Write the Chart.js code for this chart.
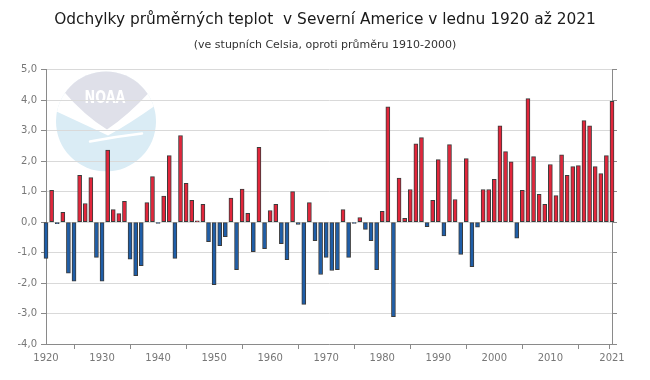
<!DOCTYPE html>
<html>
<head>
<meta charset="utf-8">
<script src="https://cdn.jsdelivr.net/npm/chart.js@4"></script>
<style>
    html, body { margin: 0; padding: 0; background: #fff; }
    #wrap { width: 650px; height: 380px; position: relative; }
</style>
</head>
<body>
<div id="wrap"><canvas id="tempChart"></canvas></div>
<script>
// years 1920..2021
const firstYear = 1920;
const lastYear = 2021;
const anomalies = [
    -1.19, 1.04, -0.05, 0.32, -1.68, -1.94, 1.53, 0.61, 1.46, -1.16,   // 1920s
    -1.94, 2.36, 0.41, 0.28, 0.68, -1.22, -1.76, -1.43, 0.64, 1.49,    // 1930s
    -0.04, 0.85, 2.18, -1.19, 2.84, 1.27, 0.71, 0.04, 0.58, -0.64,     // 1940s
    -2.05, -0.77, -0.48, 0.79, -1.56, 1.08, 0.29, -0.97, 2.45, -0.87,  // 1950s
    0.38, 0.58, -0.71, -1.23, 1.00, -0.08, -2.70, 0.64, -0.61, -1.72,  // 1960s
    -1.16, -1.59, -1.56, 0.41, -1.16, -0.04, 0.15, -0.24, -0.61, -1.56, // 1970s
    0.35, 3.78, -3.10, 1.44, 0.12, 1.07, 2.57, 2.77, -0.15, 0.71,      // 1980s
    2.05, -0.45, 2.54, 0.74, -1.06, 2.08, -1.46, -0.17, 1.07, 1.07,    // 1990s
    1.40, 3.16, 2.31, 1.98, -0.53, 1.04, 4.05, 2.15, 0.91, 0.58,       // 2000s
    1.89, 0.87, 2.21, 1.53, 1.82, 1.85, 3.33, 3.16, 1.82, 1.59,        // 2010s
    2.18, 3.96                                                         // 2020, 2021
];
const xTickYears = [1920, 1930, 1940, 1950, 1960, 1970, 1980, 1990, 2000, 2010, 2020, 2021];
const yTickValues = [-4, -3, -2, -1, 0, 1, 2, 3, 4, 5];

const warmColor = '#e2263b';
const coldColor = '#1f5ea8';
const edgeColor = '#3b3b3b';
const axisGray = '#8a8a8a';

const points = anomalies.map((v, i) => ({ x: firstYear + i, y: v }));

// faded NOAA emblem behind the plot
const logoPlugin = {
    id: 'noaaLogo',
    beforeDraw(chart) {
        const c = chart.ctx;
        const cx = 106, cy = 121.5, r = 50;
        c.save();
        c.beginPath();
        c.arc(cx, cy, r, 0, Math.PI * 2);
        c.clip();
        c.fillStyle = '#daecf5';
        c.fillRect(cx - r, cy - r, 2 * r, 2 * r);
        // white gull band
        c.fillStyle = '#ffffff';
        c.beginPath();
        c.moveTo(cx - 50, cy - 60);
        c.lineTo(cx + 50, cy - 60);
        c.lineTo(cx + 52, cy - 18);
        c.quadraticCurveTo(cx + 24, cy + 2, cx + 2, cy + 14);
        c.quadraticCurveTo(cx - 24, cy + 2, cx - 54, cy - 12);
        c.closePath();
        c.fill();
        // grey upper part
        c.fillStyle = '#dfe0e9';
        c.beginPath();
        c.moveTo(cx - 50, cy - 60);
        c.lineTo(cx + 50, cy - 60);
        c.lineTo(cx + 44, cy - 30);
        c.quadraticCurveTo(cx + 22, cy - 6, cx + 1, cy + 8);
        c.quadraticCurveTo(cx - 22, cy - 6, cx - 44, cy - 32);
        c.closePath();
        c.fill();
        // lower swoosh
        c.strokeStyle = '#ffffff';
        c.lineCap = 'round';
        c.lineWidth = 2.5;
        c.beginPath();
        c.moveTo(cx - 16, cy + 20);
        c.quadraticCurveTo(cx + 10, cy + 15, cx + 36, cy + 12);
        c.stroke();
        c.fillStyle = '#ffffff';
        c.font = 'bold 17px "DejaVu Sans"';
        c.textAlign = 'center';
        c.textBaseline = 'middle';
        c.fillText('NOAA', cx - 1, cy - 23, 41);
        c.restore();
    }
};

const ctx = document.getElementById('tempChart').getContext('2d');
const tempChart = new Chart(ctx, {
    type: 'bar',
    data: {
        datasets: [{
            data: points,
            backgroundColor: points.map(p => p.y >= 0 ? warmColor : coldColor),
            borderColor: edgeColor,
            borderWidth: 1,
            borderSkipped: false,
            barThickness: 4,
            clip: false
        }]
    },
    options: {
        responsive: true,
        maintainAspectRatio: false,
        animation: false,
        layout: { padding: { left: 0, right: 0, top: 0, bottom: 0 } },
        plugins: {
            legend: { display: false },
            tooltip: { enabled: false },
            title: {
                display: true,
                text: 'Odchylky průměrných teplot  v Severní Americe v lednu 1920 až 2021',
                color: '#1a1a1a',
                font: { family: 'DejaVu Sans', size: 15.4, weight: 'normal' },
                padding: { top: 11, bottom: 6 }
            },
            subtitle: {
                display: true,
                text: '(ve stupních Celsia, oproti průměru 1910-2000)',
                color: '#333333',
                font: { family: 'DejaVu Sans', size: 11 },
                padding: { top: 3, bottom: 18 }
            }
        },
        scales: {
            x: {
                type: 'linear',
                min: firstYear,
                max: lastYear,
                offset: false,
                afterBuildTicks: axis => {
                    axis.ticks = xTickYears.map(v => ({ value: v }));
                },
                afterFit: axis => { axis.height = 36; },
                grid: { drawOnChartArea: false, drawTicks: true, tickLength: 5, color: axisGray },
                border: { color: axisGray },
                ticks: {
                    autoSkip: false,
                    maxRotation: 0,
                    color: '#777777',
                    font: { family: 'DejaVu Sans', size: 10 },
                    padding: 3,
                    callback: v => (v === 2020 ? '' : String(v))
                }
            },
            y: {
                min: -4,
                max: 5,
                afterBuildTicks: axis => {
                    axis.ticks = yTickValues.map(v => ({ value: v }));
                },
                afterFit: axis => { axis.width = 46; },
                grid: {
                    color: '#d9d9d9',
                    tickColor: axisGray,
                    tickLength: 5
                },
                border: { color: axisGray },
                ticks: {
                    color: '#777777',
                    font: { family: 'DejaVu Sans', size: 10 },
                    padding: 4,
                    callback: v => v.toFixed(1).replace('.', ',')
                }
            },
            yRight: {
                position: 'right',
                min: -4,
                max: 5,
                afterBuildTicks: axis => {
                    axis.ticks = yTickValues.map(v => ({ value: v }));
                },
                afterFit: axis => { axis.width = 38; },
                grid: { drawOnChartArea: false, color: axisGray, tickLength: 5 },
                border: { color: axisGray },
                ticks: { display: true, color: 'rgba(0,0,0,0)', font: { size: 10 } }
            }
        }
    },
    plugins: [logoPlugin]
});
</script>
</body>
</html>
